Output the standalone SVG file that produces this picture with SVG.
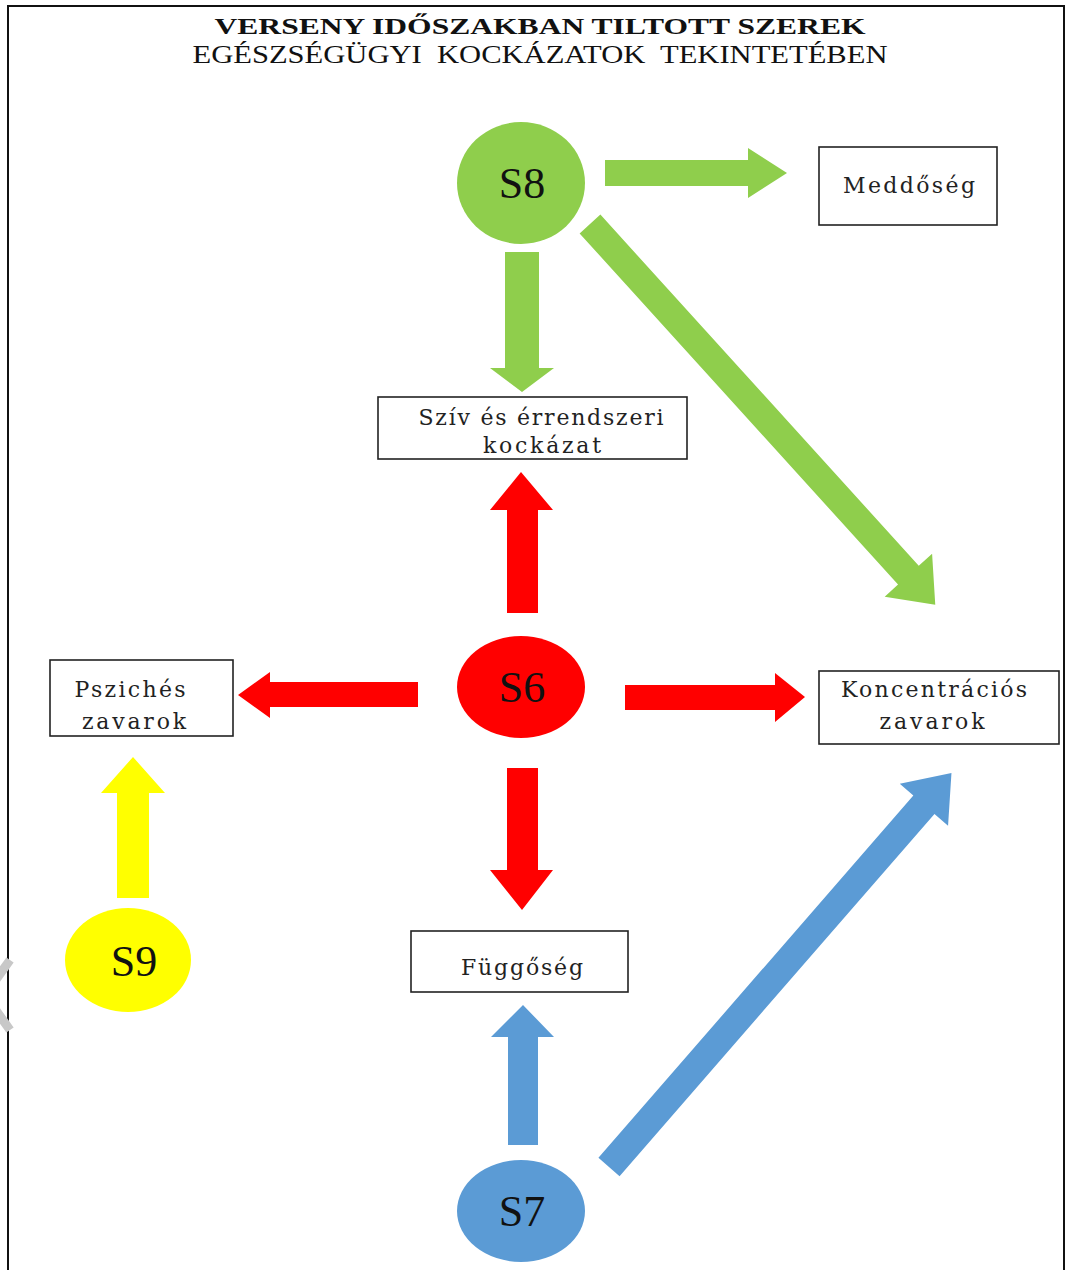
<svg xmlns="http://www.w3.org/2000/svg" width="1071" height="1270" viewBox="0 0 1071 1270">
<style>
.box{fill:#fff;stroke:#222;stroke-width:1.6}
.lbl{font-family:'DejaVu Serif', serif;font-size:22px;fill:#222;text-anchor:middle}
.sl{font-family:'Liberation Serif', 'Times New Roman', serif;font-size:44px;fill:#111;text-anchor:middle}
.green{fill:#8fce4c}
.red{fill:#ff0000}
.blue{fill:#5b9bd5}
.yellow{fill:#ffff00}
</style>
<rect width="1071" height="1270" fill="#fff"/>
<path d="M8,1270 L8,6 L1064,6 L1064,1270" fill="none" stroke="#111" stroke-width="2"/>
<polyline points="10,960 -15,995 10,1030" fill="none" stroke="#c8c8c8" stroke-width="9"/>
<g id="title" font-family="'Liberation Serif', 'Times New Roman', serif">
<text x="540" y="34" font-size="23" font-weight="bold" fill="#111" text-anchor="middle" textLength="651" lengthAdjust="spacingAndGlyphs">VERSENY IDŐSZAKBAN TILTOTT SZEREK</text>
<text x="540" y="63" font-size="25" fill="#111" text-anchor="middle" textLength="695" lengthAdjust="spacingAndGlyphs" xml:space="preserve">EGÉSZSÉGÜGYI  KOCKÁZATOK  TEKINTETÉBEN</text>
</g>
<g id="connectors">
<polygon class="green" points="605,160 748,160 748,148 787,173 748,198 748,186 605,186"/>
<polygon class="green" points="505,252 539,252 539,368 554,368 522,392 490,368 505,368"/>
<path class="green" transform="translate(590,224) rotate(47.8)" d="M0,-14 L474,-14 L474,-32 L514,0 L474,32 L474,14 L0,14 Z"/>
<polygon class="red" points="507,613 538,613 538,510 553,510 521,472 490,510 507,510"/>
<polygon class="red" points="418,682 418,707 270,707 270,718 238,695 270,672 270,682"/>
<polygon class="red" points="625,685 775,685 775,673 805,697 775,722 775,710 625,710"/>
<polygon class="red" points="507,768 538,768 538,870 553,870 522,910 490,870 507,870"/>
<polygon class="blue" points="508,1145 538,1145 538,1037 554,1037 523,1005 491,1037 508,1037"/>
<path class="blue" transform="translate(609,1167) rotate(-49)" d="M0,-14 L480,-14 L480,-32 L522,0 L480,32 L480,14 L0,14 Z"/>
<polygon class="yellow" points="117,898 149,898 149,793 165,793 133,757 101,793 117,793"/>
</g>
<g id="S8"><ellipse class="green" cx="521" cy="183" rx="64" ry="61"/><text class="sl" x="522" y="198">S8</text></g>
<g id="S6"><ellipse class="red" cx="521" cy="687" rx="64" ry="51"/><text class="sl" x="522" y="702">S6</text></g>
<g id="S9"><ellipse class="yellow" cx="128" cy="960" rx="63" ry="52"/><text class="sl" x="134" y="976">S9</text></g>
<g id="S7"><ellipse class="blue" cx="521" cy="1211" rx="64" ry="51"/><text class="sl" x="522" y="1226">S7</text></g>
<g id="meddoseg"><rect class="box" x="819" y="147" width="178" height="78"/><text class="lbl" x="909" y="193" textLength="132" lengthAdjust="spacing">Meddőség</text></g>
<g id="sziv"><rect class="box" x="378" y="397" width="309" height="62"/><text class="lbl" x="541" y="425" textLength="245" lengthAdjust="spacing">Szív és érrendszeri</text><text class="lbl" x="542" y="453" textLength="118" lengthAdjust="spacing">kockázat</text></g>
<g id="psziches"><rect class="box" x="50" y="660" width="183" height="76"/><text class="lbl" x="130" y="697" textLength="111" lengthAdjust="spacing">Pszichés</text><text class="lbl" x="134" y="729" textLength="104" lengthAdjust="spacing">zavarok</text></g>
<g id="koncentracios"><rect class="box" x="819" y="671" width="240" height="73"/><text class="lbl" x="934" y="697" textLength="186" lengthAdjust="spacing">Koncentrációs</text><text class="lbl" x="932" y="729" textLength="105" lengthAdjust="spacing">zavarok</text></g>
<g id="fuggoseg"><rect class="box" x="411" y="931" width="217" height="61"/><text class="lbl" x="522" y="975" textLength="122" lengthAdjust="spacing">Függőség</text></g>
</svg>
